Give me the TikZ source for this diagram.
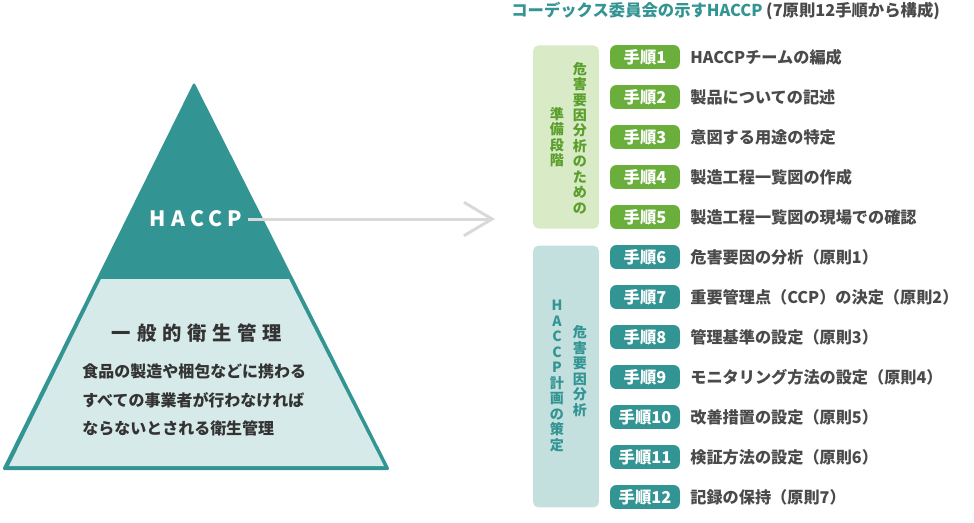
\documentclass[tikz,border=0pt]{standalone}
\usepackage{fontspec}
\setmainfont{Noto Sans CJK JP}
\usetikzlibrary{arrows.meta, positioning, calc}
\definecolor{haccpteal}{HTML}{339593}
\definecolor{basislight}{HTML}{D6EAE9}
\definecolor{prepgreen}{HTML}{6AAE3B}
\definecolor{prepgreentext}{HTML}{5A9F2C}
\definecolor{prepbox}{HTML}{D9EAC6}
\definecolor{planbox}{HTML}{C3E0DF}
\definecolor{stepgray}{HTML}{4A4A4A}
\definecolor{bodygray}{HTML}{333333}
\definecolor{arrowgray}{HTML}{D9D9D9}

\begin{document}
\begin{tikzpicture}[x=0.02cm, y=-0.02cm,
  pill/.style={rounded corners=3.5pt, minimum width=39.7pt, minimum height=13.6pt,
    inner sep=0pt, text=white, font=\bfseries\fontsize{9.3}{9.3}\selectfont},
  greenpill/.style={pill, fill=prepgreen},
  tealpill/.style={pill, fill=haccpteal},
  steptext/.style={anchor=west, inner sep=0pt, text=stepgray,
    font=\bfseries\fontsize{9.2}{9.2}\selectfont},
  phasebox/.style={rounded corners=3pt, minimum width=37.4pt, inner sep=0pt},
  vlabel/.style={align=center, inner sep=0pt, font=\bfseries\fontsize{8}{8.8}\selectfont},
  arrowline/.style={arrowgray, line width=1.7pt,
    -{Straight Barb[length=16pt, width=19pt]}}]
  \useasboundingbox (0,0) rectangle (974,522);

  % pyramid
  \fill[haccpteal, rounded corners=1.5pt] (194,82) -- (390,470) -- (2,470) -- cycle;
  \fill[basislight] (101,279) -- (289,279) -- (384,466) -- (9,466) -- cycle;
  \node[text=white, inner xsep=3pt, font=\bfseries\fontsize{12}{12}\selectfont\addfontfeatures{LetterSpace=25}]
    (haccp) at (196,219) {HACCP};
  \node[text=bodygray, font=\bfseries\fontsize{11}{11}\selectfont\addfontfeatures{LetterSpace=30}]
    (basis) at (197,333) {一般的衛生管理};
  \node[anchor=west, align=left, inner sep=0pt, text=bodygray,
    font=\bfseries\fontsize{9.1}{16}\selectfont] (basisnote) at (82,400)
    {食品の製造や梱包などに携わる\\すべての事業者が行わなければ\\ならないとされる衛生管理};

  % arrow to the steps
  \coordinate (arrowtip) at (495,219);
  \draw[arrowline] (haccp.east) -- (arrowtip);

  % title
  \node[anchor=west, inner sep=0pt, font=\bfseries\fontsize{9.3}{9.3}\selectfont] (title) at (511,11)
    {\textcolor{haccpteal}{コーデックス委員会の示すHACCP} \textcolor{stepgray}{(7原則12手順から構成)}};

  % phases
  \node[phasebox, fill=prepbox, minimum height=104.3pt] (prep) at (566,137) {};
  \node[phasebox, fill=planbox, minimum height=149pt] (plan) at (566,376.5) {};
  \node[vlabel, text=prepgreentext] (prepa) at (580,138) {危\\害\\要\\因\\分\\析\\の\\た\\め\\の};
  \node[vlabel, text=prepgreentext] (prepb) at (557,137) {準\\備\\段\\階};
  \node[vlabel, text=haccpteal] (plana) at (580,371) {危\\害\\要\\因\\分\\析};
  \node[vlabel, text=haccpteal] (planb) at (557,376) {H\\A\\C\\C\\P\\計\\画\\の\\策\\定};

  % steps
  \foreach \n/\t in {1/HACCPチームの編成, 2/製品についての記述, 3/意図する用途の特定,
      4/製造工程一覧図の作成, 5/製造工程一覧図の現場での確認} {
    \node[greenpill] (step\n) at (645,{17+40*\n}) {手順\n};
    \node[steptext] (desc\n) at (690,{17+40*\n}) {\t};
  }
  \foreach \n/\t in {6/危害要因の分析（原則1）, 7/重要管理点（CCP）の決定（原則2）,
      8/管理基準の設定（原則3）, 9/モニタリング方法の設定（原則4）,
      10/改善措置の設定（原則5）, 11/検証方法の設定（原則6）, 12/記録の保持（原則7）} {
    \node[tealpill] (step\n) at (645,{17+40*\n}) {手順\n};
    \node[steptext] (desc\n) at (690,{17+40*\n}) {\t};
  }
\end{tikzpicture}
\end{document}
